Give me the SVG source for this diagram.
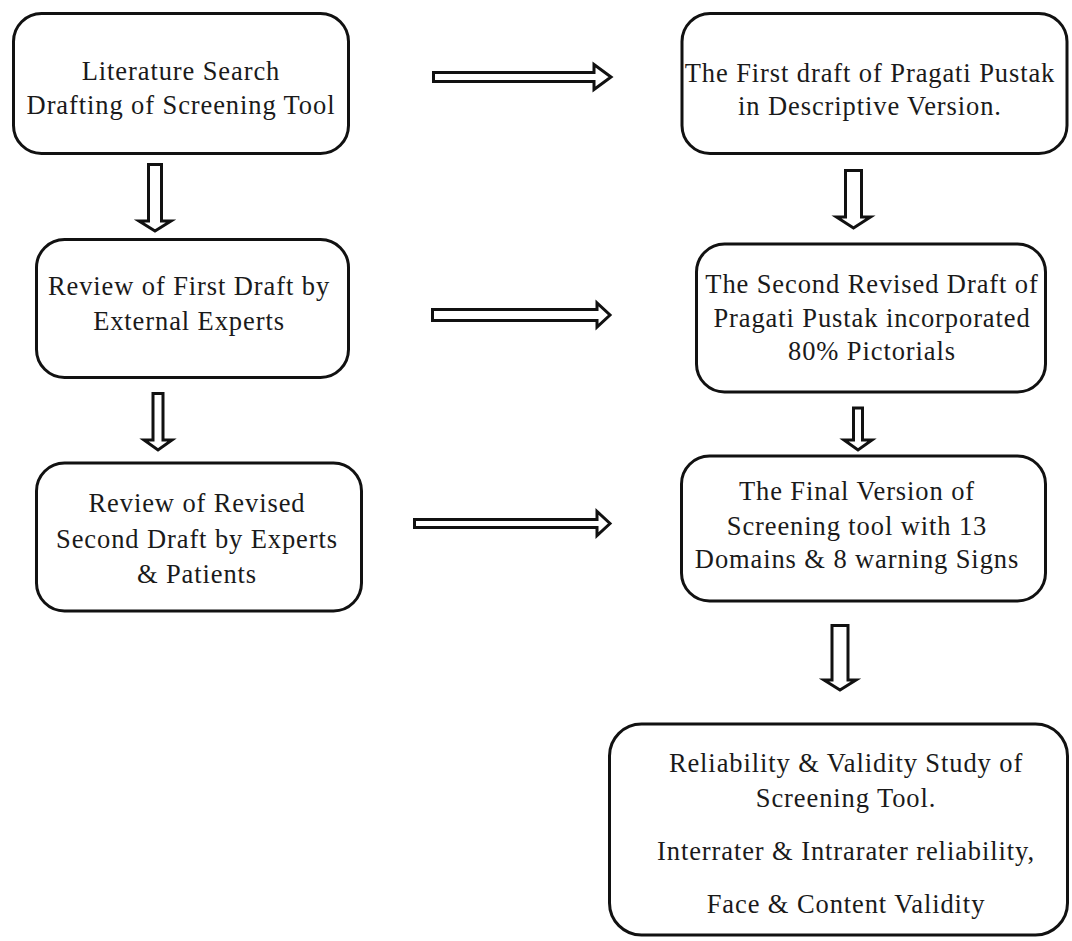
<svg xmlns="http://www.w3.org/2000/svg" width="1072" height="941" viewBox="0 0 1072 941">
<style>
.box{fill:#fff;stroke:#111;stroke-width:3}
.arr{fill:#fff;stroke:#111;stroke-width:3;stroke-linejoin:miter}
text{font-family:"Liberation Serif","Times New Roman",serif;font-size:26.5px;letter-spacing:0.9px;fill:#1a1a1a;text-anchor:middle}
</style>
<rect width="1072" height="941" fill="#fff"/>
<g id="connectors">
<path class="arr" d="M433.5,72.5 H594 V64.5 L611,77 L594,89.5 V81.5 H433.5 Z"/>
<path class="arr" d="M432.5,309.5 H597 V303 L610,315 L597,327 V320.5 H432.5 Z"/>
<path class="arr" d="M414.5,519.5 H597 V511.5 L610,523.5 L597,535.5 V527.5 H414.5 Z"/>
<path class="arr" d="M148.5,164.5 V221 H139 L155,231 L171,221 H161.5 V164.5 Z"/>
<path class="arr" d="M153,393.5 V440 H144 L158,450 L172,440 H163 V393.5 Z"/>
<path class="arr" d="M845.5,170.5 V217 H836.5 L853.5,228 L870.5,217 H861.5 V170.5 Z"/>
<path class="arr" d="M853.5,408 V440 H844 L858,450 L872,440 H862.5 V408 Z"/>
<path class="arr" d="M832,625.5 V680 H824 L840,690 L856,680 H848 V625.5 Z"/>
</g>
<g id="n1">
<rect class="box" x="13.5" y="13.5" width="335" height="140" rx="28"/>
<text x="181" y="80">Literature Search</text>
<text x="181" y="114">Drafting of Screening Tool</text>
</g>
<g id="n2">
<rect class="box" x="682" y="13.5" width="385" height="140" rx="28"/>
<text x="870" y="82">The First draft of Pragati Pustak</text>
<text x="870" y="115">in Descriptive Version.</text>
</g>
<g id="n3">
<rect class="box" x="36.5" y="239.5" width="312" height="138" rx="28"/>
<text x="189" y="295">Review of First Draft by</text>
<text x="189" y="330">External Experts</text>
</g>
<g id="n4">
<rect class="box" x="696.5" y="244" width="349" height="148" rx="28"/>
<text x="872" y="293">The Second Revised Draft of</text>
<text x="872" y="327">Pragati Pustak incorporated</text>
<text x="872" y="360">80% Pictorials</text>
</g>
<g id="n5">
<rect class="box" x="36.5" y="463" width="325" height="148" rx="28"/>
<text x="197" y="512">Review of Revised</text>
<text x="197" y="548">Second Draft by Experts</text>
<text x="197" y="583">&amp; Patients</text>
</g>
<g id="n6">
<rect class="box" x="681.5" y="456" width="364" height="145" rx="28"/>
<text x="857" y="500">The Final Version of</text>
<text x="857" y="535">Screening tool with 13</text>
<text x="857" y="568">Domains &amp; 8 warning Signs</text>
</g>
<g id="n7">
<rect class="box" x="609.5" y="724" width="458" height="211" rx="32"/>
<text x="846" y="772">Reliability &amp; Validity Study of</text>
<text x="846" y="807">Screening Tool.</text>
<text x="846" y="860">Interrater &amp; Intrarater reliability,</text>
<text x="846" y="913">Face &amp; Content Validity</text>
</g>
</svg>
